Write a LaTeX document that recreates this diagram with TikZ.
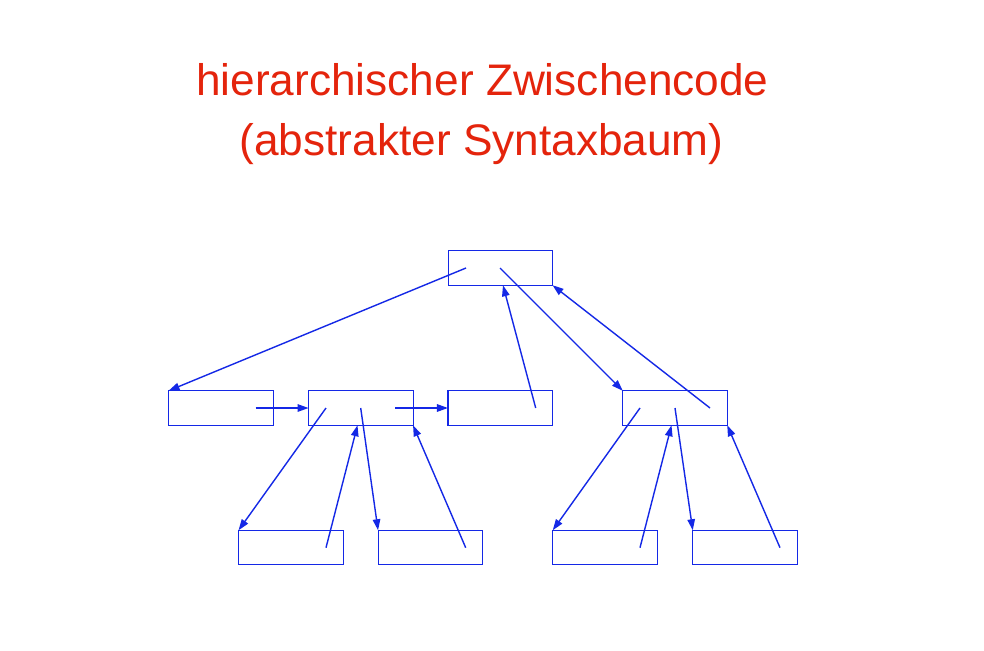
\documentclass[tikz,border=0pt]{standalone}
\usepackage{fontspec}
\setmainfont{Liberation Sans}
\usetikzlibrary{arrows.meta}
\definecolor{titlered}{RGB}{228,36,12}
\definecolor{treeblue}{RGB}{20,40,230}
\begin{document}
\begin{tikzpicture}[x=1pt,y=-1pt,
  box/.style={draw=treeblue,line width=1.1pt,minimum width=104.5pt,minimum height=34.5pt,inner sep=0pt,outer sep=0pt},
  link/.style={draw=treeblue,line width=1.4pt,-{Triangle[length=11pt,width=7.5pt]}},
  titletext/.style={text=titlered,anchor=base,inner sep=0pt,font=\fontsize{44.2}{52}\selectfont}]
\useasboundingbox[fill=white] (0,0) rectangle (984,650);
\node[titletext] (t1) at (482.5,95.7) {hierarchischer Zwischencode};
\node[titletext] (t2) at (481.5,155) {(abstrakter Syntaxbaum)};
% boxes
\node[box] (T) at (500.3,268) {};
\node[box] (M1) at (220.8,408) {};
\node[box] (M2) at (360.8,408) {};
\node[box] (M3) at (500.2,408) {};
\node[box] (M4) at (675,408) {};
\node[box] (B1) at (290.8,547.5) {};
\node[box] (B2) at (430.3,547.5) {};
\node[box] (B3) at (605,547.5) {};
\node[box] (B4) at (745,547.5) {};
% start points
\coordinate (tl) at (466,268);
\coordinate (tr) at (500,268);
\coordinate (m1r) at (255.7,408);
\coordinate (m2l) at (326,408);
\coordinate (m2c) at (360.7,408);
\coordinate (m2r) at (395.3,408);
\coordinate (m3r) at (535.7,408);
\coordinate (m4l) at (640,408);
\coordinate (m4c) at (675,408);
\coordinate (m4r) at (710,408);
\coordinate (b1r) at (326,547.7);
\coordinate (b2r) at (465.7,547.7);
\coordinate (b3r) at (640,547.7);
\coordinate (b4r) at (780,547.7);
% top
\draw[link] (tl) -- (M1.north west);
\draw[link] (tr) -- (M4.north west);
\draw[link] (m3r) -- (T.south -| 503,0);
\draw[link] (m4r) -- (T.south east);
% middle row
\draw[link] (m1r) -- (M2.west);
\draw[link] (m2r) -- (M3.west);
% left subtree
\draw[link] (m2l) -- (B1.north west);
\draw[link] (b1r) -- (M2.south -| 357.5,0);
\draw[link] (m2c) -- (B2.north west);
\draw[link] (b2r) -- (M2.south east);
% right subtree
\draw[link] (m4l) -- (B3.north west);
\draw[link] (b3r) -- (M4.south -| 671.5,0);
\draw[link] (m4c) -- (B4.north west);
\draw[link] (b4r) -- (M4.south east);
\end{tikzpicture}
\end{document}
